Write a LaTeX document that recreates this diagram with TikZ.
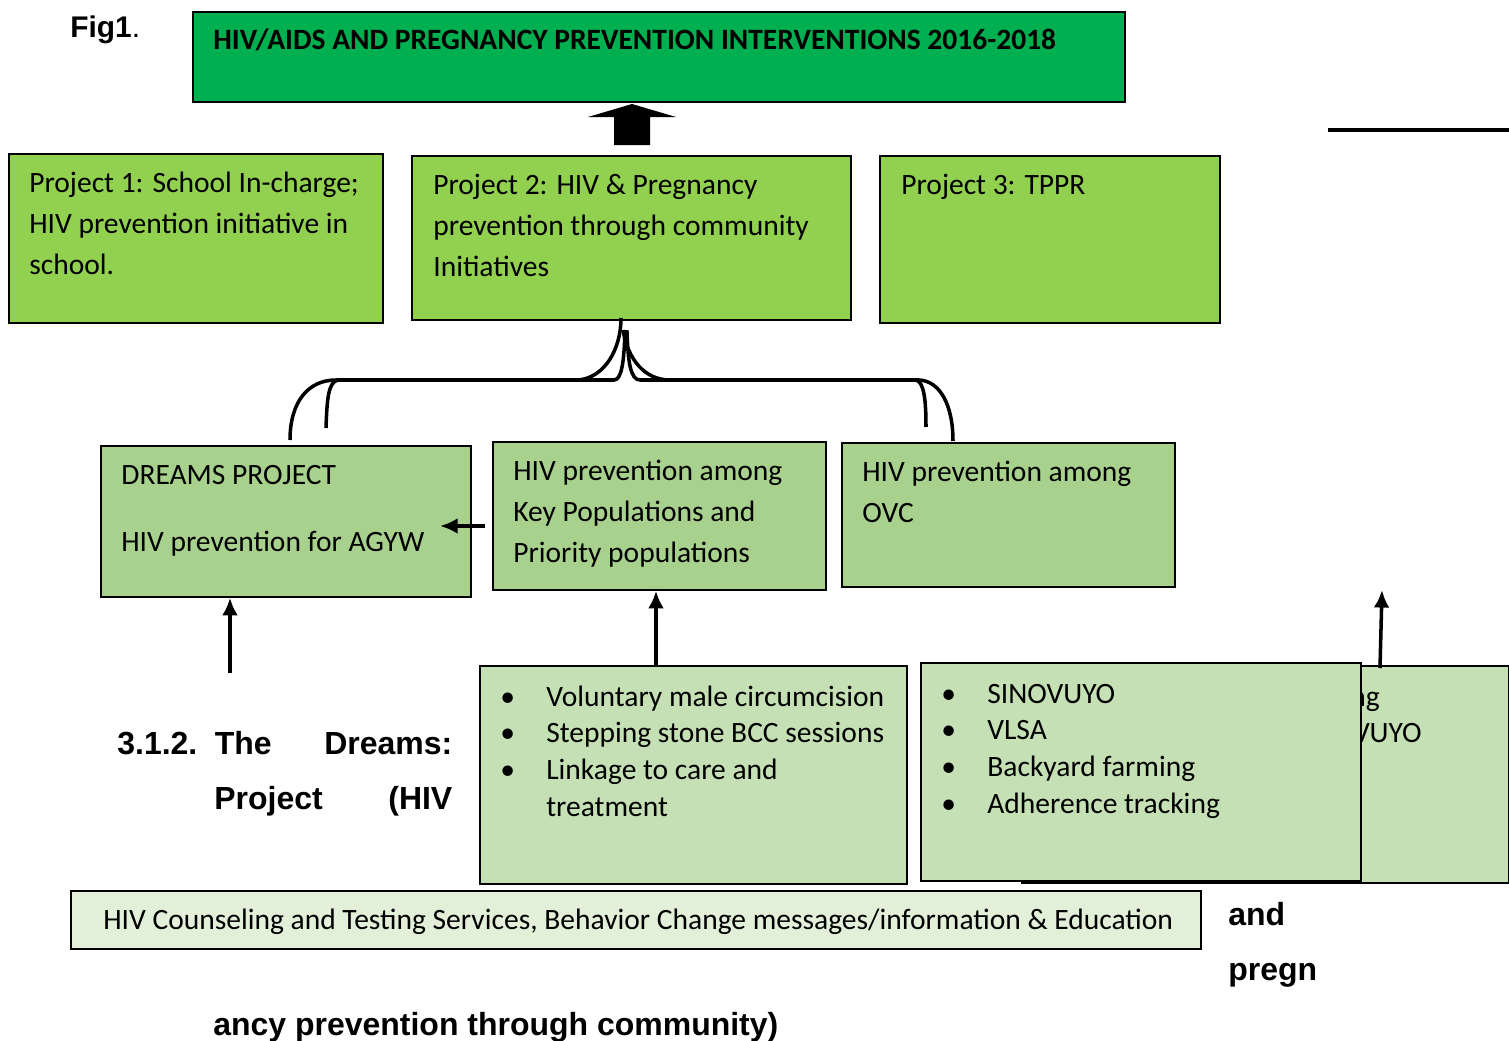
\documentclass[tikz,border=0pt]{standalone}
\usepackage{fontspec}
\setmainfont{Carlito}
\newfontfamily\headfont{Liberation Sans}
\usetikzlibrary{arrows.meta}

\definecolor{titlegreen}{HTML}{00B050}
\definecolor{projgreen}{HTML}{92D050}
\definecolor{progreen}{HTML}{A9D18E}
\definecolor{actgreen}{HTML}{C5E0B4}
\definecolor{palegreen}{HTML}{E2F0D9}

% one unit = one pixel of the drawing
\newlength{\unitpx}
\setlength{\unitpx}{0.02cm}

\newcommand{\boxlines}[1]{\begin{tabular}[t]{@{}l@{}}#1\end{tabular}}
\newcommand{\dotitem}{\makebox[46\unitpx][l]{\textbullet}}

\tikzset{
    box/.style 2 args={draw, line width=1pt, rectangle, inner sep=0pt, anchor=north west,
        minimum width=#1\unitpx, minimum height=#2\unitpx},
    txt/.style={inner sep=0pt, anchor=base west, font=\fontsize{16.8}{23.5}\selectfont},
    listtxt/.style={txt, font=\fontsize{16.8}{21}\selectfont},
    headtxt/.style={inner sep=0pt, anchor=base west, font=\headfont\bfseries\fontsize{18.2}{31.5}\selectfont},
    brace/.style={line width=2pt},
    arr/.style={->, line width=2pt},
}

\begin{document}
\begin{tikzpicture}[x=0.02cm,y=-0.02cm,>={Latex[length=10pt,width=9pt]}]
    \useasboundingbox (0,0) rectangle (1509,1041);

    % heading
    \node (fig) [inner sep=0pt, anchor=base west, font=\headfont\fontsize{17}{20}\selectfont] at (70,37) {\textbf{Fig1}.};
    \node (title) [box={932}{90}, fill=titlegreen] at (192,11) {};
    \node (titletxt) [txt, font=\bfseries\fontsize{16.8}{20}\selectfont] at (213,50) {HIV/AIDS AND PREGNANCY PREVENTION INTERVENTIONS 2016-2018};
    \fill (614,145) -- (614,117) -- (588,117) -- (632,104) -- (676,117) -- (650,117) -- (650,145) -- cycle;
    \coordinate (rule_a) at (1328,130);
    \coordinate (rule_b) at (1509,130);
    \draw[line width=2.2pt] (rule_a) -- (rule_b);

    % projects
    \node (p1) [box={374}{169}, fill=projgreen] at (8,153) {};
    \node (p1txt) [txt] at (29,192) {\boxlines{Project 1: School In-charge;\\HIV prevention initiative in\\school.}};
    \node (p2) [box={439}{164}, fill=projgreen] at (411,155) {};
    \node (p2txt) [txt] at (433,194) {\boxlines{Project 2: HIV \& Pregnancy\\prevention through community\\Initiatives}};
    \node (p3) [box={340}{167}, fill=projgreen] at (879,155) {};
    \node (p3txt) [txt] at (901,194) {Project 3: TPPR};

    % programmes under project 2
    \node (dreams) [box={370}{151}, fill=progreen] at (100,445) {};
    \node (dreamstxt) [txt] at (121,484) {\boxlines{DREAMS PROJECT\\[15pt]HIV prevention for AGYW}};
    \node (keypop) [box={333}{148}, fill=progreen] at (492,441) {};
    \node (keypoptxt) [txt] at (513,480) {\boxlines{HIV prevention among\\Key Populations and\\Priority populations}};
    \node (ovc) [box={333}{144}, fill=progreen] at (841,442) {};
    \node (ovctxt) [txt] at (862,481) {\boxlines{HIV prevention among\\OVC}};

    % two braces from project 2
    \draw[brace] (290,440) .. controls (290,402) and (308,380) .. (336,380) -- (578,380)
        .. controls (604,378) and (621,350) .. (621,318);
    \draw[brace] (623,330) .. controls (628,360) and (645,380) .. (670,380) -- (919,380)
        .. controls (940,381) and (953,405) .. (953,441);
    \draw[brace] (326,428) .. controls (327,400) and (328,382) .. (338,380) -- (614,380)
        .. controls (622,380) and (624,360) .. (625,332) -- (627,332)
        .. controls (628,360) and (630,380) .. (640,380) -- (916,380)
        .. controls (924,382) and (926,400) .. (926,427);

    % activities
    \node (back) [box={487}{217}, fill=actgreen] at (1021,665) {};
    \node (backtxt) [listtxt, anchor=base east] at (1422,706) {\begin{tabular}[t]{@{}r@{}}Parenting\hspace*{42\unitpx}\\SINOVUYO\end{tabular}};
    \node (svcs1) [box={427}{218}, fill=actgreen] at (479,665) {};
    \node (svcs1txt) [listtxt] at (500,706) {\boxlines{\dotitem Voluntary male circumcision\\\dotitem Stepping stone BCC sessions\\\dotitem Linkage to care and\\\hspace*{46\unitpx}treatment}};
    \node (svcs2) [box={440}{218}, fill=actgreen] at (920,662) {};
    \node (svcs2txt) [listtxt] at (941,703) {\boxlines{\dotitem SINOVUYO\\\dotitem VLSA\\\dotitem Backyard farming\\\dotitem Adherence tracking}};
    \node (hct) [box={1130}{58}, fill=palegreen] at (70,890) {};
    \node (hcttxt) [txt] at (103,929) {HIV Counseling and Testing Services, Behavior Change messages/information \& Education};

    % arrows
    \coordinate (up1) at (230,673);
    \draw[arr] (up1) -- (up1 |- dreams.south);
    \draw[arr] (svcs1.north -| 656,0) -- (keypop.south -| 656,0);
    \coordinate (up3a) at (1380,668);
    \coordinate (up3b) at (1382,590);
    \draw[arr] (up3a) -- (up3b);
    \coordinate (left_a) at (485,526);
    \coordinate (left_b) at (440,526);
    \draw[arr] (left_a) -- (left_b);

    % running text
    \node (sec1) [headtxt] at (117,754) {\hbox to 335\unitpx{3.1.2.\hspace{10pt}The\hfill Dreams:}};
    \node (sec2) [headtxt] at (214,809) {\hbox to 238\unitpx{Project\hfill(HIV}};
    \node (sec3) [headtxt] at (1228,925) {and};
    \node (sec4) [headtxt] at (1228,980) {pregn};
    \node (sec5) [headtxt] at (213,1035) {ancy prevention through community)};
\end{tikzpicture}
\end{document}
